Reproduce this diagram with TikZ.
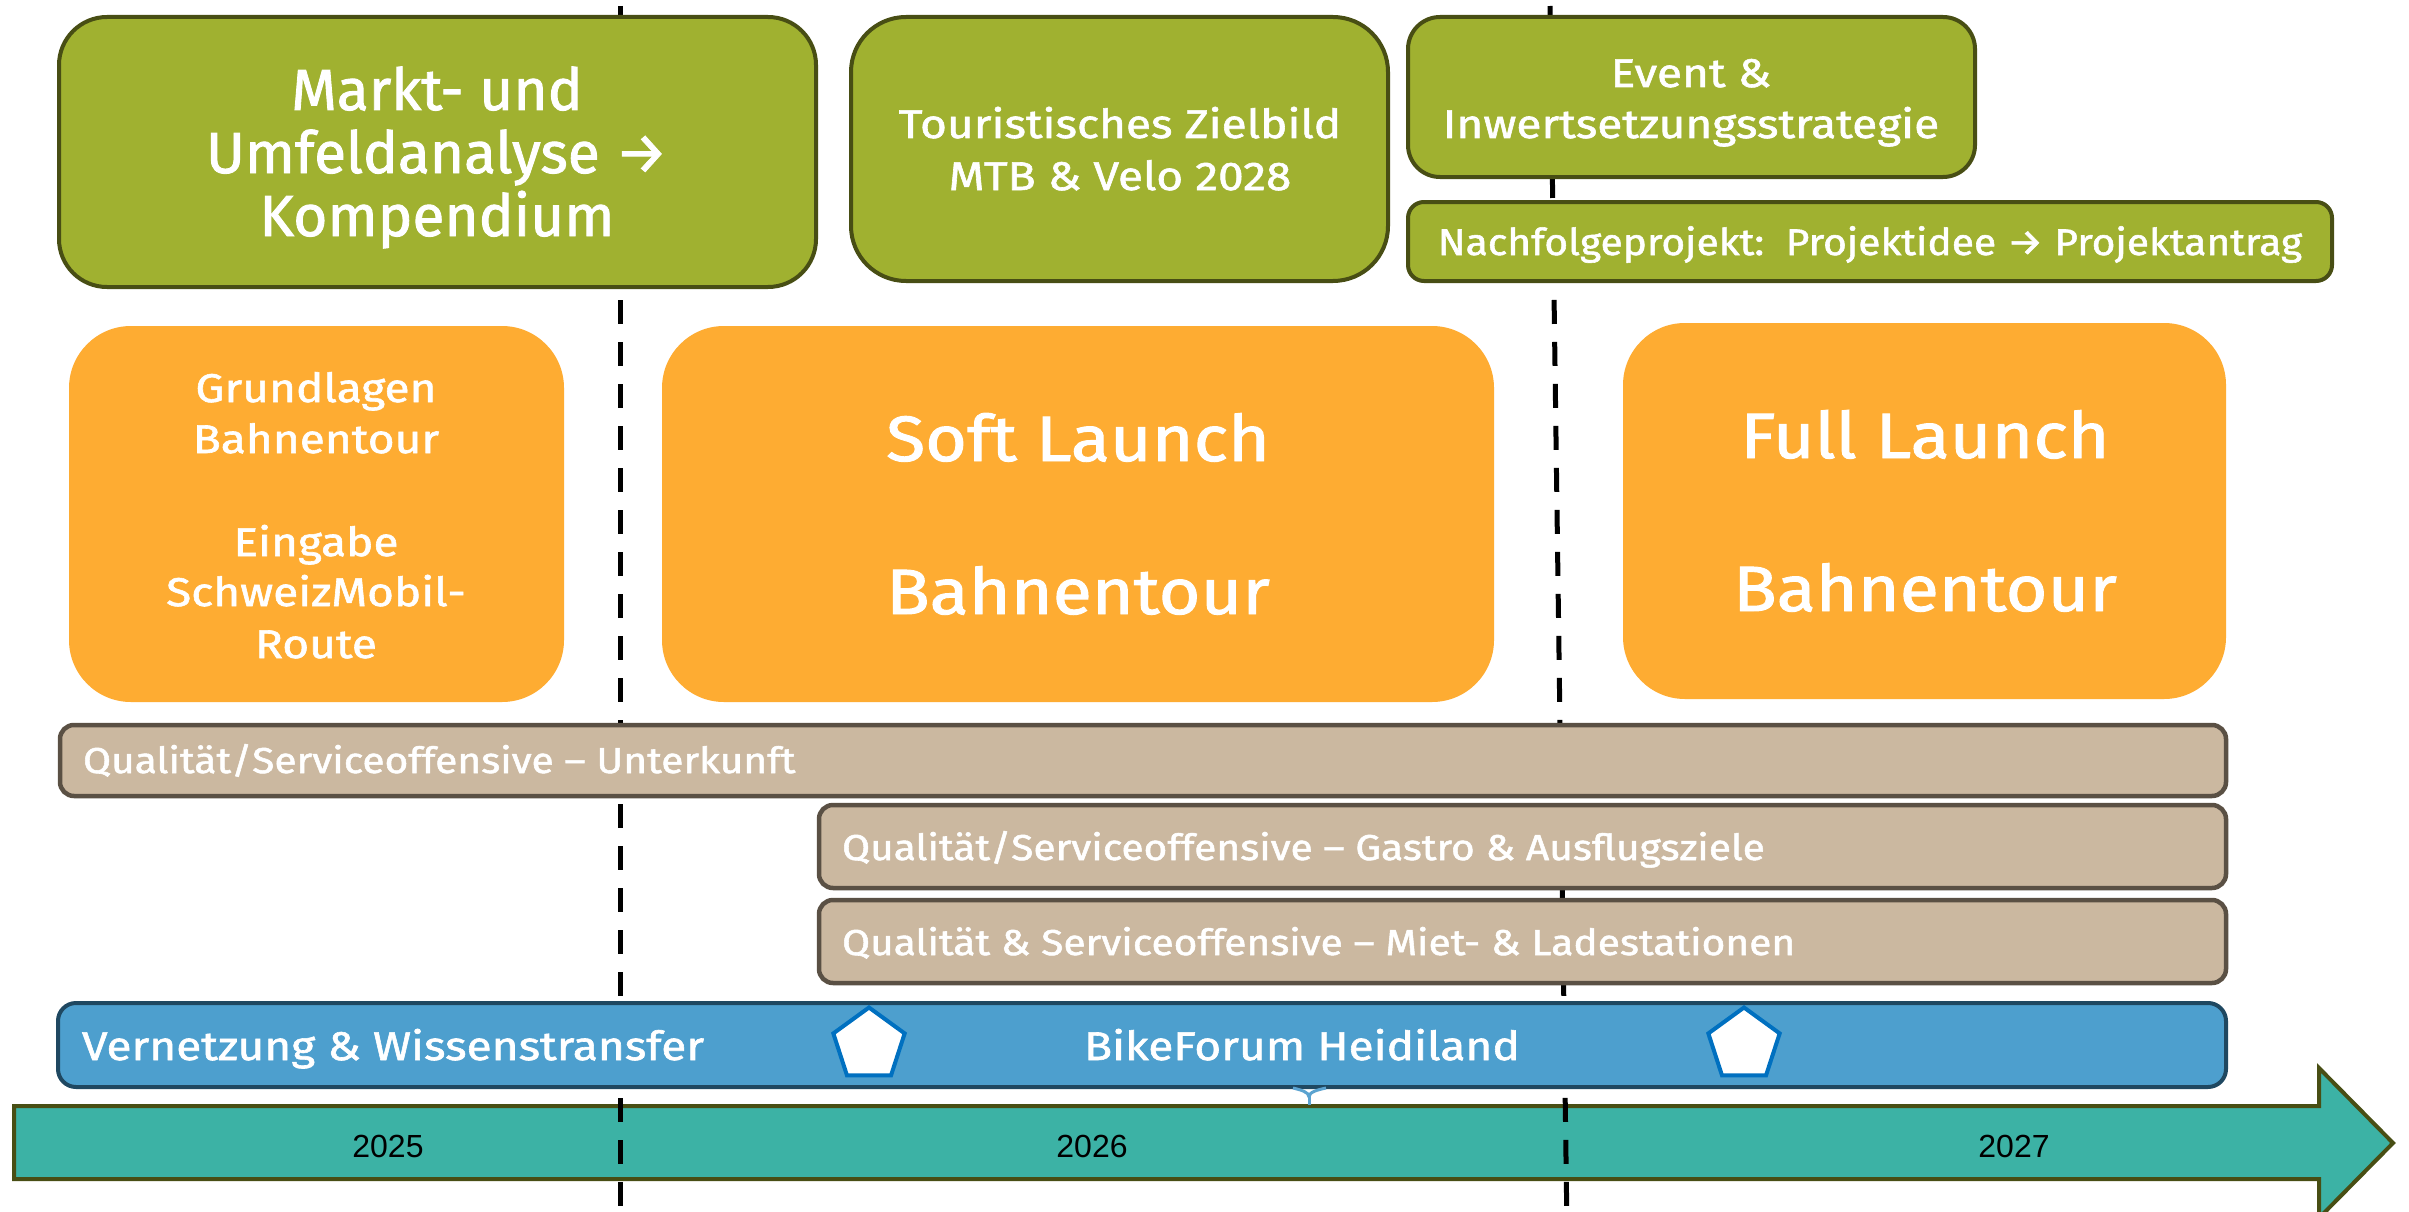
\documentclass[tikz,border=0pt]{standalone}
\usepackage{fontspec}
\setmainfont{Fira Sans}
\newfontfamily\yearfont{Liberation Sans}
\newfontfamily\fsBig[FakeStretch=1.01,FakeBold=1.5]{Fira Sans}
\newfontfamily\fsMid[FakeStretch=1.15,FakeBold=1.5]{Fira Sans}
\newfontfamily\fsHuge[FakeStretch=1.12,FakeBold=1.5]{Fira Sans}
\newfontfamily\fsBar[FakeStretch=1.13,FakeBold=1.5]{Fira Sans}
\newfontfamily\fsNach[FakeStretch=1.10,FakeBold=1.5]{Fira Sans}
\usetikzlibrary{shapes.geometric}
\definecolor{gfill}{RGB}{160,177,48}
\definecolor{gline}{RGB}{72,78,20}
\definecolor{ofill}{RGB}{254,172,50}
\definecolor{tfill}{RGB}{203,184,160}
\definecolor{tline}{RGB}{90,80,68}
\definecolor{bfill}{RGB}{77,159,206}
\definecolor{bline}{RGB}{31,72,97}
\definecolor{pline}{RGB}{0,112,192}
\definecolor{teal}{RGB}{60,178,165}
\definecolor{tickc}{RGB}{91,163,208}
\begin{document}
\begin{tikzpicture}[x=1pt,y=-1pt,
  box/.style={rectangle,inner sep=0pt,outer sep=0pt},
  gbox/.style={box,fill=gfill,draw=gline,line width=4pt},
  obox/.style={box,fill=ofill,rounded corners=62pt},
  tbox/.style={box,fill=tfill,draw=tline,line width=4.5pt,rounded corners=14pt},
  bbox/.style={box,fill=bfill,draw=bline,line width=4pt,rounded corners=18pt},
  pent/.style={regular polygon,regular polygon sides=5,minimum size=75pt,inner sep=0pt,outer sep=0pt,fill=white,draw=pline,line width=4pt},
  dline/.style={line width=5pt,black,dash pattern=on 24pt off 18pt},
  txt/.style={text=white,inner sep=0pt,outer sep=0pt,anchor=base},
  ltxt/.style={txt,anchor=base west},
  big/.style={font=\fsBig\fontsize{58}{63}\selectfont},
  mid/.style={font=\fsMid\fontsize{40}{48}\selectfont},
  huge/.style={font=\fsHuge\fontsize{64}{76}\selectfont},
  bar/.style={font=\fsBar\fontsize{36}{44}\selectfont},
  nach/.style={font=\fsNach\fontsize{37}{44}\selectfont},
  yr/.style={inner sep=0pt,anchor=base,text=black,font=\yearfont\fontsize{32}{38}\selectfont}
]
\useasboundingbox (0,0) rectangle (2409,1212);
\clip (0,0) rectangle (2409,1212);
\fill[white] (0,0) rectangle (2409,1212);

% timeline arrow
\draw[fill=teal,draw=gline,line width=4pt,miter limit=10]
  (14,1106) -- (2319,1106) -- (2319,1068) -- (2393,1143) -- (2319,1218) -- (2319,1179) -- (14,1179) -- cycle;
\node[yr] (y25) at (388,1157) {2025};
\node[yr] (y26) at (1092,1157) {2026};
\node[yr] (y27) at (2014,1157) {2027};

% dashed separators
\coordinate (d1t) at (620,6);
\coordinate (d1b) at (620,1230);
\coordinate (d2t) at (1550,6);
\coordinate (d2b) at (1567,1230);
\draw[dline] (d1t) -- (d1b);
\draw[dline] (d2t) -- (d2b);

% green boxes
\node[gbox,rounded corners=48pt,minimum width=757pt,minimum height=270pt] (g1) at (437.5,152) {};
\node[gbox,rounded corners=55pt,minimum width=537pt,minimum height=264pt] (g2) at (1119.5,149) {};
\node[gbox,rounded corners=32pt,minimum width=567pt,minimum height=160pt] (g3) at (1691.5,97) {};
\node[gbox,rounded corners=16pt,minimum width=924pt,minimum height=79pt] (g4) at (1870,241.5) {};

\node[txt,big] (g1a) at (437,110) {Markt- und};
\node[txt,big] (g1b) at (437,173) {Umfeldanalyse →};
\node[txt,big] (g1c) at (437,236) {Kompendium};
\node[txt,mid] (g2a) at (1120,138) {Touristisches Zielbild};
\node[txt,mid] (g2b) at (1120,190) {MTB \& Velo 2028};
\node[txt,mid] (g3a) at (1691,87) {Event \&};
\node[txt,mid] (g3b) at (1691,138) {Inwertsetzungsstrategie};
\node[txt,nach] (g4a) at (1870,255) {Nachfolgeprojekt:\ \ Projektidee → Projektantrag};

% orange boxes
\node[obox,minimum width=495pt,minimum height=376pt] (o1) at (316.5,514) {};
\node[obox,minimum width=832pt,minimum height=376pt] (o2) at (1078,514) {};
\node[obox,minimum width=603pt,minimum height=376pt] (o3) at (1924.5,511) {};

\node[txt,mid] (o1a) at (316,402) {Grundlagen};
\node[txt,mid] (o1b) at (316,453) {Bahnentour};
\node[txt,mid] (o1c) at (316,556) {Eingabe};
\node[txt,mid] (o1d) at (316,606) {SchweizMobil-};
\node[txt,mid] (o1e) at (316,658) {Route};
\node[txt,huge] (o2a) at (1078,461) {Soft Launch};
\node[txt,huge] (o2b) at (1078,614) {Bahnentour};
\node[txt,huge] (o3a) at (1925,458) {Full Launch};
\node[txt,huge] (o3b) at (1925,611) {Bahnentour};

% tan bars
\node[tbox,minimum width=2166pt,minimum height=71pt] (t1) at (1143,760.5) {};
\node[tbox,minimum width=1407pt,minimum height=83pt] (t2) at (1522.5,846.5) {};
\node[tbox,minimum width=1407pt,minimum height=83pt] (t3) at (1522.5,941.5) {};
\node[ltxt,bar] (t1a) at (83,773) {Qualität/Serviceoffensive – Unterkunft};
\node[ltxt,bar] (t2a) at (842,860) {Qualität/Serviceoffensive – Gastro \& Ausflugsziele};
\node[ltxt,bar] (t3a) at (842,955) {Qualität \& Serviceoffensive – Miet- \& Ladestationen};

% blue bar
\node[bbox,minimum width=2168pt,minimum height=84pt] (b1) at (1142,1045) {};
\node[ltxt,mid] (b1a) at (82,1060) {Vernetzung \& Wissenstransfer};
\node[txt,mid] (b1b) at (1302,1060) {BikeForum Heidiland};
\node[pent] (p1) at (869,1045) {};
\node[pent] (p2) at (1744,1045) {};

% small tick under blue bar
\coordinate (tk) at (1309,1097);
\draw[tickc,line width=3pt] (1293,1088) .. controls (1301,1090) and (1309,1092) .. (tk);
\draw[tickc,line width=3pt] (1326,1088) .. controls (1317,1090) and (1309,1092) .. (tk);
\draw[tickc,line width=3pt] (tk) -- (1309,1105);
\end{tikzpicture}
\end{document}
